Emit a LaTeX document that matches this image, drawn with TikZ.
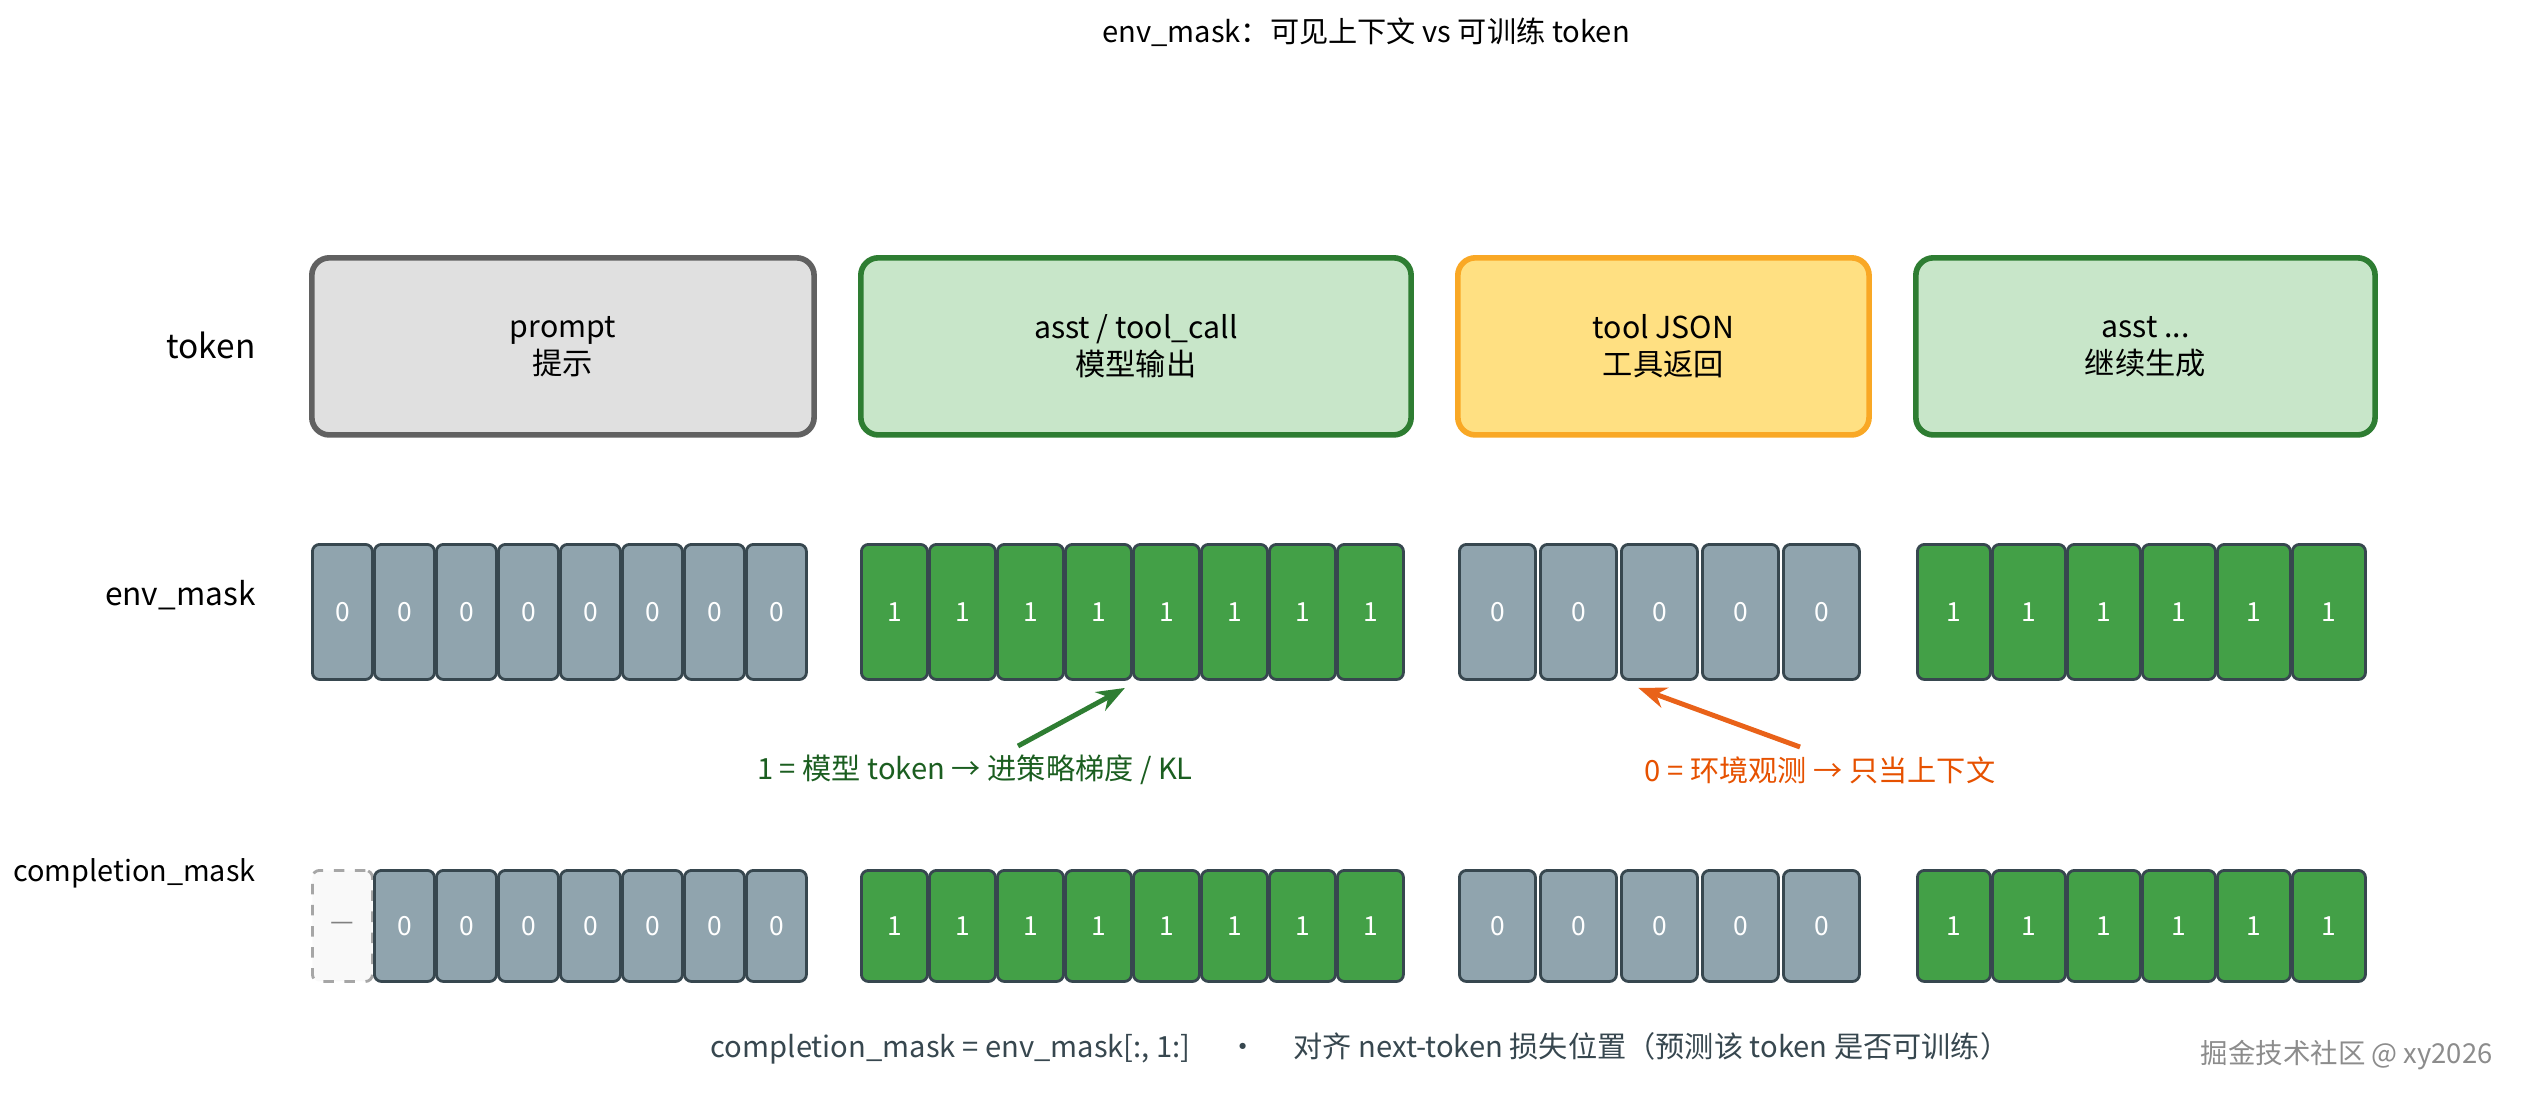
\documentclass[tikz,border=0pt]{standalone}
\usepackage{fontspec}
\setmainfont{Noto Sans CJK SC}
\usetikzlibrary{positioning,arrows.meta}
\definecolor{cellgray}{HTML}{90A4AE}
\definecolor{celledge}{HTML}{37474F}
\definecolor{cellgreen}{HTML}{43A047}
\definecolor{boxgray}{HTML}{E0E0E0}
\definecolor{boxgrayedge}{HTML}{616161}
\definecolor{boxgreen}{HTML}{C8E6C9}
\definecolor{boxgreenedge}{HTML}{2E7D32}
\definecolor{boxyellow}{HTML}{FFE082}
\definecolor{boxyellowedge}{HTML}{F9A825}
\definecolor{notegreen}{HTML}{1B5E20}
\definecolor{noteorange}{HTML}{E65100}
\tikzset{
  seg/.style={draw, line width=1.6pt, rounded corners=5pt, align=center,
    font=\fontsize{8.6}{10.5}\selectfont, inner sep=0pt, anchor=north west},
  cell/.style={draw=celledge, line width=0.8pt, rounded corners=2pt, inner sep=0pt,
    anchor=north west, text=white, font=\fontsize{7.5}{9}\selectfont},
  zero/.style={cell, fill=cellgray},
  one/.style={cell, fill=cellgreen},
  rowlabel/.style={anchor=east, font=\fontsize{8.2}{10}\selectfont},
  note/.style={font=\fontsize{8.3}{10}\selectfont},
}
\begin{document}
\begin{tikzpicture}[x=0.01cm, y=-0.01cm]
  \useasboundingbox (0,0) rectangle (2533,1099);

  \node (title) at (1366,32) {\fontsize{8.3}{10}\selectfont env\_mask：可见上下文 vs 可训练 token};

  % row labels
  \node[rowlabel, font=\fontsize{9.5}{11}\selectfont] (lbl-token) at (268,345) {token};
  \node[rowlabel, font=\fontsize{9}{11}\selectfont] (lbl-env) at (268,595) {env\_mask};
  \node[rowlabel] (lbl-comp) at (268,873) {completion\_mask};

  % token segments
  \node[seg, fill=boxgray, draw=boxgrayedge, minimum width=5.02cm, minimum height=1.77cm] (seg-prompt) at (309,255) {prompt\\提示};
  \node[seg, fill=boxgreen, draw=boxgreenedge, minimum width=5.50cm, minimum height=1.77cm] (seg-asst) at (858,255) {asst / tool\_call\\模型输出};
  \node[seg, fill=boxyellow, draw=boxyellowedge, minimum width=4.11cm, minimum height=1.77cm] (seg-tool) at (1455,255) {tool JSON\\工具返回};
  \node[seg, fill=boxgreen, draw=boxgreenedge, minimum width=4.59cm, minimum height=1.77cm] (seg-more) at (1913,255) {asst ...\\继续生成};

  % env_mask cells
  \foreach \i in {0,...,7}
    \node[zero, minimum width=0.60cm, minimum height=1.35cm] (env-a-\i) at (311+62*\i,543) {0};
  \foreach \i in {0,...,7}
    \node[one, minimum width=0.66cm, minimum height=1.35cm] (env-b-\i) at (860+68*\i,543) {1};
  \foreach \i in {0,...,4}
    \node[zero, minimum width=0.76cm, minimum height=1.35cm] (env-c-\i) at (1458+81*\i,543) {0};
  \foreach \i in {0,...,5}
    \node[one, minimum width=0.73cm, minimum height=1.35cm] (env-d-\i) at (1916+75*\i,543) {1};

  % completion_mask cells
  \node[cell, draw=gray!70, dashed, fill=gray!5, text=gray, minimum width=0.60cm, minimum height=1.11cm] (comp-a-0) at (311,869) {—};
  \foreach \i in {1,...,7}
    \node[zero, minimum width=0.60cm, minimum height=1.11cm] (comp-a-\i) at (311+62*\i,869) {0};
  \foreach \i in {0,...,7}
    \node[one, minimum width=0.66cm, minimum height=1.11cm] (comp-b-\i) at (860+68*\i,869) {1};
  \foreach \i in {0,...,4}
    \node[zero, minimum width=0.76cm, minimum height=1.11cm] (comp-c-\i) at (1458+81*\i,869) {0};
  \foreach \i in {0,...,5}
    \node[one, minimum width=0.73cm, minimum height=1.11cm] (comp-d-\i) at (1916+75*\i,869) {1};

  % annotations
  \node[note, text=notegreen] (note-one) at (975,770) {1 = 模型 token → 进策略梯度 / KL};
  \node[note, text=noteorange] (note-zero) at (1820,770) {0 = 环境观测 → 只当上下文};
  \coordinate (from-one) at (1018,746);
  \coordinate (from-zero) at (1800,747);
  \draw[-{Stealth[length=8pt]}, line width=1.4pt, boxgreenedge] (from-one) -- ([xshift=-2pt,yshift=-2pt]env-b-4.south west);
  \draw[-{Stealth[length=8pt]}, line width=1.4pt, noteorange!90] (from-zero) -- ([xshift=-6pt,yshift=-2pt]env-c-2.south);

  \node[text=celledge] (caption) at (1360,1048) {\fontsize{8.3}{10}\selectfont completion\_mask = env\_mask[:, 1:] \quad · \quad 对齐 next-token 损失位置（预测该 token 是否可训练）};
  \node[anchor=east, text=gray!90] (mark) at (2505,1055) {\fontsize{7.8}{9}\selectfont 掘金技术社区 @ xy2026};
\end{tikzpicture}
\end{document}
